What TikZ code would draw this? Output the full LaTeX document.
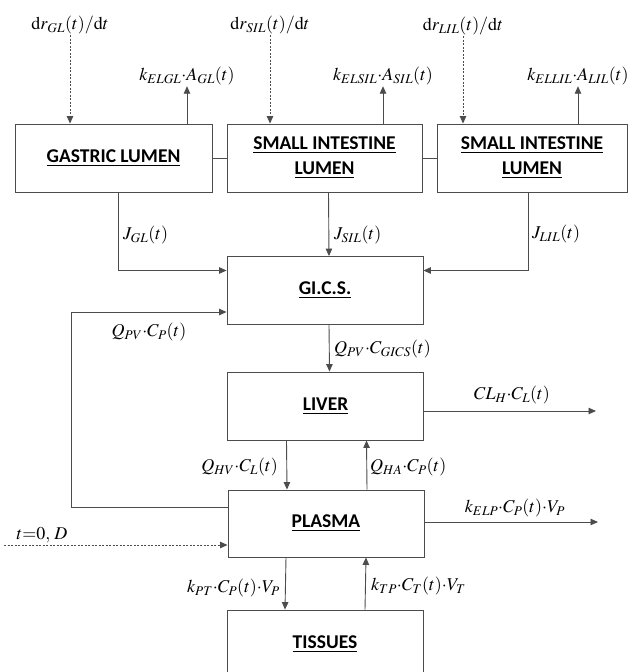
\documentclass[tikz,border=0pt]{standalone}
\usepackage{mathptmx}
\usepackage[no-math]{fontspec}
\setmainfont{Liberation Serif}
\newfontfamily\boxfont{Carlito}
\usetikzlibrary{arrows.meta}

\tikzset{
  compartment/.style={draw=black!70, line width=0.9pt, minimum width=196pt, minimum height=68pt,
    align=center, font=\boxfont\bfseries\fontsize{19.5}{25}\selectfont},
  flow/.style={draw=black!70, line width=0.9pt, -{Triangle[length=7.5pt,width=6.5pt]}},
  doseflow/.style={flow, dash pattern=on 2pt off 1.5pt},
  link/.style={draw=black!70, line width=0.9pt},
  rate/.style={font=\fontsize{18}{21}\selectfont, inner sep=1pt}
}

\begin{document}
\begin{tikzpicture}[x=1pt,y=-1pt]
  \useasboundingbox (0,0) rectangle (630,672);
  \clip (0,0) rectangle (630,672);
  % Compartments
  \node [compartment, minimum width=197pt] (gl) at (113.5,158) {\underline{GASTRIC LUMEN}};
  \node [compartment, minimum width=195pt] (sil) at (324.5,158) {\underline{SMALL INTESTINE}\\\underline{LUMEN}};
  \node [compartment, minimum width=190pt] (lil) at (532,158) {\underline{SMALL INTESTINE}\\\underline{LUMEN}};
  \node [compartment] (gics) at (325,290.5) {\underline{GI.C.S.}};
  \node [compartment] (liver) at (325.5,406) {\underline{LIVER}};
  \node [compartment, minimum height=67pt] (plasma) at (326,523.5) {\underline{PLASMA}};
  \node [compartment] (tissues) at (325,644) {\underline{TISSUES}};
  \draw [link] (gl.east) -- (sil.west);
  \draw [link] (sil.east) -- (lil.west);
  % Release rates
  \node [rate] (drgl) at (70,25) {$\mathrm{d}r_{GL}(t)/\mathrm{d}t$};
  \node [rate] (drsil) at (270,25) {$\mathrm{d}r_{SIL}(t)/\mathrm{d}t$};
  \node [rate] (drlil) at (463,26) {$\mathrm{d}r_{LIL}(t)/\mathrm{d}t$};
  \draw [doseflow] (drgl.south) -- (drgl.south |- gl.north);
  \draw [doseflow] (drsil.south) -- (drsil.south |- sil.north);
  \draw [doseflow] (drlil.south) -- (drlil.south |- lil.north);
  % Luminal elimination
  \node [rate] (kgl) at (187,76) {$k_{ELGL}{\cdot}A_{GL}(t)$};
  \node [rate] (ksil) at (383,76) {$k_{ELSIL}{\cdot}A_{SIL}(t)$};
  \node [rate] (klil) at (578,76) {$k_{ELLIL}{\cdot}A_{LIL}(t)$};
  \draw [flow] (kgl.south |- gl.north) -- (kgl.south);
  \draw [flow] (ksil.south |- sil.north) -- (ksil.south);
  \draw [flow] (klil.south |- lil.north) -- (klil.south);
  % Absorption
  \draw [flow] ([xshift=5pt]gl.south) |- ([yshift=20pt]gics.west);
  \draw [flow] ([xshift=4pt]sil.south) -- ([xshift=4pt]gics.north);
  \draw [flow] ([xshift=-4pt]lil.south) |- ([yshift=20pt]gics.east);
  \node [rate, anchor=west] (jgl) at (122,235) {$J_{GL}(t)$};
  \node [rate, anchor=west] (jsil) at (333,235) {$J_{SIL}(t)$};
  \node [rate, anchor=west] (jlil) at (531,234) {$J_{LIL}(t)$};
  % Portal vein and liver
  \draw [flow] ([xshift=4pt]gics.south) -- ([xshift=4pt]liver.north);
  \node [rate, anchor=west] (qgics) at (333,349) {$Q_{PV}{\cdot}C_{GICS}(t)$};
  \coordinate (clout) at (596,411);
  \draw [flow] (liver.east |- clout) -- (clout);
  \node [rate] (clh) at (512,395) {$CL_{H}{\cdot}C_{L}(t)$};
  \draw [flow] ([xshift=-39pt]liver.south) -- ([xshift=-39pt]plasma.north);
  \draw [flow] ([xshift=41pt]plasma.north) -- ([xshift=41pt]liver.south);
  \node [rate, anchor=east] (qhv) at (279,467) {$Q_{HV}{\cdot}C_{L}(t)$};
  \node [rate, anchor=west] (qha) at (369,467) {$Q_{HA}{\cdot}C_{P}(t)$};
  % Plasma
  \coordinate (fb) at (71,507);
  \draw [flow] (fb -| plasma.west) -- (fb) |- ([yshift=-21.5pt]gics.west);
  \node [rate] (qpv) at (149,332) {$Q_{PV}{\cdot}C_{P}(t)$};
  \coordinate (dose) at (4,545);
  \draw [doseflow] (dose) -- (dose -| plasma.west);
  \node [rate] (d0) at (42,535) {$t{=}0,\,D$};
  \coordinate (elpout) at (598,522);
  \draw [flow] (plasma.east |- elpout) -- (elpout);
  \node [rate] (kelp) at (515,508) {$k_{ELP}{\cdot}C_{P}(t){\cdot}V_{P}$};
  % Tissues
  \draw [flow] ([xshift=-40pt]plasma.south) -- ([xshift=-40pt]tissues.north);
  \draw [flow] ([xshift=40pt]tissues.north) -- ([xshift=40pt]plasma.south);
  \node [rate, anchor=east] (kpt) at (281,588) {$k_{PT}{\cdot}C_{P}(t){\cdot}V_{P}$};
  \node [rate, anchor=west] (ktp) at (370,586) {$k_{TP}{\cdot}C_{T}(t){\cdot}V_{T}$};
\end{tikzpicture}
\end{document}
